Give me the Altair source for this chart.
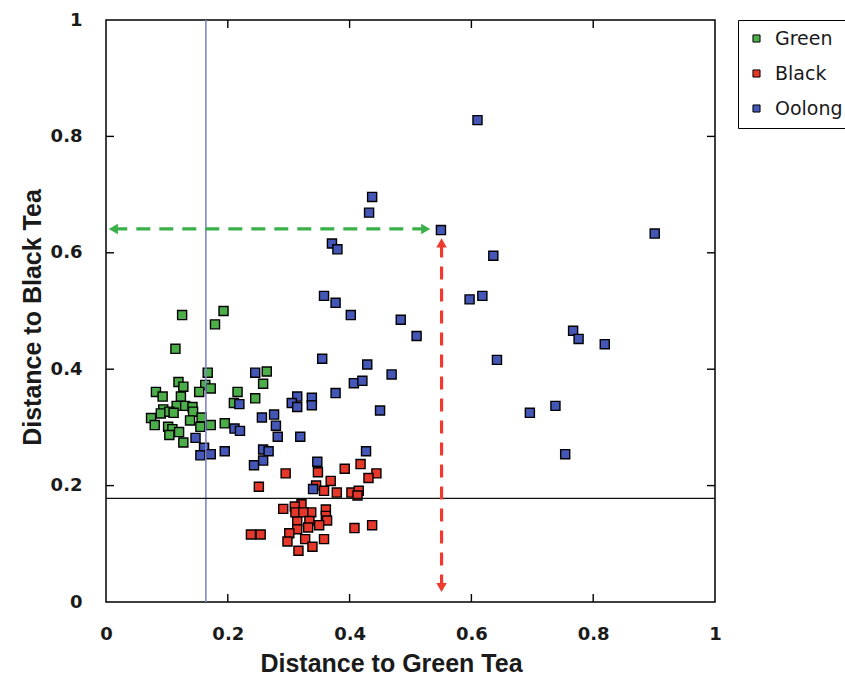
import altair as alt
import pandas as pd

# ---------------- data ----------------
categories = ["Green", "Black", "Oolong"]

green_x = [0.125, 0.193, 0.179, 0.114, 0.167, 0.119, 0.127, 0.163, 0.172, 0.153,
           0.082, 0.093, 0.123, 0.216, 0.264, 0.258, 0.245, 0.210, 0.116, 0.130,
           0.142, 0.094, 0.090, 0.104, 0.111, 0.143, 0.074, 0.157, 0.138, 0.080,
           0.102, 0.109, 0.155, 0.172, 0.195, 0.120, 0.104, 0.127]
green_y = [0.493, 0.500, 0.477, 0.435, 0.394, 0.378, 0.370, 0.373, 0.367, 0.361,
           0.361, 0.353, 0.353, 0.361, 0.396, 0.375, 0.350, 0.342, 0.337, 0.337,
           0.335, 0.331, 0.324, 0.327, 0.325, 0.327, 0.316, 0.317, 0.312, 0.304,
           0.301, 0.297, 0.301, 0.304, 0.307, 0.292, 0.287, 0.274]

black_x = [0.295, 0.251, 0.348, 0.392, 0.418, 0.444, 0.431, 0.369, 0.345, 0.358,
           0.379, 0.403, 0.415, 0.413, 0.321, 0.310, 0.291, 0.361, 0.311, 0.337,
           0.324, 0.361, 0.363, 0.314, 0.334, 0.350, 0.332, 0.314, 0.408, 0.437,
           0.238, 0.254, 0.301, 0.327, 0.358, 0.298, 0.339, 0.316]
black_y = [0.221, 0.198, 0.223, 0.229, 0.237, 0.221, 0.213, 0.208, 0.200, 0.191,
           0.188, 0.188, 0.191, 0.183, 0.168, 0.164, 0.160, 0.159, 0.154, 0.154,
           0.154, 0.148, 0.140, 0.138, 0.139, 0.132, 0.128, 0.125, 0.127, 0.132,
           0.116, 0.116, 0.118, 0.108, 0.108, 0.104, 0.095, 0.088]

oolong_x = [0.610, 0.437, 0.432, 0.550, 0.371, 0.380, 0.636, 0.901, 0.358, 0.377,
            0.402, 0.484, 0.510, 0.597, 0.618, 0.767, 0.776, 0.819, 0.355, 0.429,
            0.642, 0.469, 0.407, 0.421, 0.245, 0.219, 0.377, 0.314, 0.305, 0.314,
            0.338, 0.338, 0.450, 0.256, 0.276, 0.279, 0.282, 0.319, 0.211, 0.220,
            0.147, 0.161, 0.155, 0.172, 0.195, 0.258, 0.267, 0.258, 0.243, 0.427,
            0.347, 0.340, 0.738, 0.696, 0.754]
oolong_y = [0.828, 0.696, 0.669, 0.639, 0.616, 0.606, 0.595, 0.633, 0.526, 0.514,
            0.493, 0.485, 0.457, 0.520, 0.526, 0.466, 0.452, 0.443, 0.418, 0.408,
            0.416, 0.391, 0.376, 0.380, 0.394, 0.340, 0.359, 0.353, 0.342, 0.335,
            0.351, 0.338, 0.329, 0.317, 0.322, 0.303, 0.284, 0.284, 0.298, 0.294,
            0.282, 0.265, 0.252, 0.254, 0.259, 0.262, 0.259, 0.243, 0.235, 0.259,
            0.241, 0.194, 0.337, 0.325, 0.254]

# reference lines
vline_x = [0.164]
hline_y = [0.178]

# annotation arrows (the selected sample at about (0.55, 0.64))
green_arrow_x = [0.012, 0.525]
green_arrow_y = [0.641, 0.641]
green_head_shape = ["triangle-left", "triangle-right"]
red_arrow_x = [0.551, 0.551]
red_arrow_y = [0.617, 0.025]
red_head_shape = ["triangle-up", "triangle-down"]

tick_vals = [0, 0.2, 0.4, 0.6, 0.8, 1]
inner_ticks = [0.2, 0.4, 0.6, 0.8]

# ---------------- tables ----------------
pts = pd.concat([
    pd.DataFrame({"x": green_x, "y": green_y, "tea": "Green"}),
    pd.DataFrame({"x": black_x, "y": black_y, "tea": "Black"}),
    pd.DataFrame({"x": oolong_x, "y": oolong_y, "tea": "Oolong"}),
], ignore_index=True)
garrow = pd.DataFrame({"x": green_arrow_x, "y": green_arrow_y, "shape": green_head_shape})
rarrow = pd.DataFrame({"x": red_arrow_x, "y": red_arrow_y, "shape": red_head_shape})
tdf = pd.DataFrame({"t": inner_ticks})

W, H = 609, 582
TL = 8  # inward tick length (px)
xs = alt.Scale(domain=[0, 1], nice=False, zero=False)
ys = alt.Scale(domain=[0, 1], nice=False, zero=False)

LABEL_FONT = "DejaVu Sans"
TITLE_FONT = "Liberation Sans Narrow, Liberation Sans, Arial, sans-serif"

x_main_axis = alt.Axis(orient="bottom", values=tick_vals, format="~g", ticks=False, domain=False,
                       grid=False, labelFlush=False, labelFont=LABEL_FONT, labelFontWeight="bold",
                       labelFontSize=18, labelColor="#1a1a1a", labelPadding=23,
                       title="Distance to Green Tea", titleFont=TITLE_FONT, titleFontWeight="bold",
                       titleFontSize=25, titleColor="#1a1a1a", titlePadding=8, titleX=285,
                       titleAnchor="middle")
y_main_axis = alt.Axis(orient="left", values=tick_vals, format="~g", ticks=False, domain=False,
                       grid=False, labelFlush=False, labelFont=LABEL_FONT, labelFontWeight="bold",
                       labelFontSize=18, labelColor="#1a1a1a", labelPadding=24,
                       title="Distance to Black Tea", titleFont=TITLE_FONT, titleFontWeight="bold",
                       titleFontSize=25, titleColor="#1a1a1a", titlePadding=5, titleY=297,
                       titleAnchor="middle")

color = alt.Color("tea:N", scale=alt.Scale(domain=categories,
                                           range=["#4cae48", "#e5372a", "#4456b6"]),
                  sort=categories,
                  legend=alt.Legend(title=None, orient="none", legendX=632, legendY=0,
                                    direction="vertical", strokeColor="black", fillColor="white",
                                    padding=9, rowPadding=15, symbolType="square", symbolSize=50,
                                    symbolStrokeColor="black", symbolStrokeWidth=1,
                                    labelFont="DejaVu Sans", labelFontSize=19, labelColor="#1a1a1a",
                                    labelOffset=9, cornerRadius=0))

points = alt.Chart(pts).mark_square(size=82, opacity=1, stroke="black", strokeWidth=1.4).encode(
    x=alt.X("x:Q", scale=xs, axis=x_main_axis),
    y=alt.Y("y:Q", scale=ys, axis=y_main_axis),
    color=color,
)

# inward tick marks on all four edges of the frame
tick_style = dict(color="black", strokeWidth=1.4)
tick_left = alt.Chart(tdf).mark_rule(**tick_style).encode(
    y=alt.Y("t:Q", scale=ys, axis=None), x=alt.value(0), x2=alt.value(TL))
tick_right = alt.Chart(tdf).mark_rule(**tick_style).encode(
    y=alt.Y("t:Q", scale=ys, axis=None), x=alt.value(W - TL), x2=alt.value(W))
tick_bottom = alt.Chart(tdf).mark_rule(**tick_style).encode(
    x=alt.X("t:Q", scale=xs, axis=None), y=alt.value(H - TL), y2=alt.value(H))
tick_top = alt.Chart(tdf).mark_rule(**tick_style).encode(
    x=alt.X("t:Q", scale=xs, axis=None), y=alt.value(0), y2=alt.value(TL))

vline = alt.Chart(pd.DataFrame({"x": vline_x})).mark_rule(color="#7f88cc", strokeWidth=1.6).encode(
    x=alt.X("x:Q", scale=xs, axis=None))
hline = alt.Chart(pd.DataFrame({"y": hline_y})).mark_rule(color="#111111", strokeWidth=1.3).encode(
    y=alt.Y("y:Q", scale=ys, axis=None))

g_line = alt.Chart(garrow).mark_line(color="#3bb04a", strokeWidth=3.2, strokeDash=[14, 9]).encode(
    x=alt.X("x:Q", scale=xs, axis=None), y=alt.Y("y:Q", scale=ys, axis=None))
g_head = alt.Chart(garrow).mark_point(filled=True, color="#3bb04a", size=110, opacity=1).encode(
    x=alt.X("x:Q", scale=xs, axis=None), y=alt.Y("y:Q", scale=ys, axis=None),
    shape=alt.Shape("shape:N", scale=None))
r_line = alt.Chart(rarrow).mark_line(color="#ee3b2e", strokeWidth=3.2, strokeDash=[13, 9]).encode(
    x=alt.X("x:Q", scale=xs, axis=None), y=alt.Y("y:Q", scale=ys, axis=None),
    order=alt.Order("y:Q"))
r_head = alt.Chart(rarrow).mark_point(filled=True, color="#ee3b2e", size=110, opacity=1).encode(
    x=alt.X("x:Q", scale=xs, axis=None), y=alt.Y("y:Q", scale=ys, axis=None),
    shape=alt.Shape("shape:N", scale=None))

chart = alt.layer(
    points, tick_left, tick_right, tick_bottom, tick_top,
    vline, hline, g_line, g_head, r_line, r_head
).resolve_axis(
    x="independent", y="independent"
).properties(
    width=W, height=H,
    autosize=alt.AutoSizeParams(type="none"),
    padding={"left": 106, "top": 20, "right": 130, "bottom": 87},
    background="white",
).configure_view(stroke="black", strokeWidth=1.5)

chart.save("out.html", embed_options={"renderer": "svg", "actions": False})
